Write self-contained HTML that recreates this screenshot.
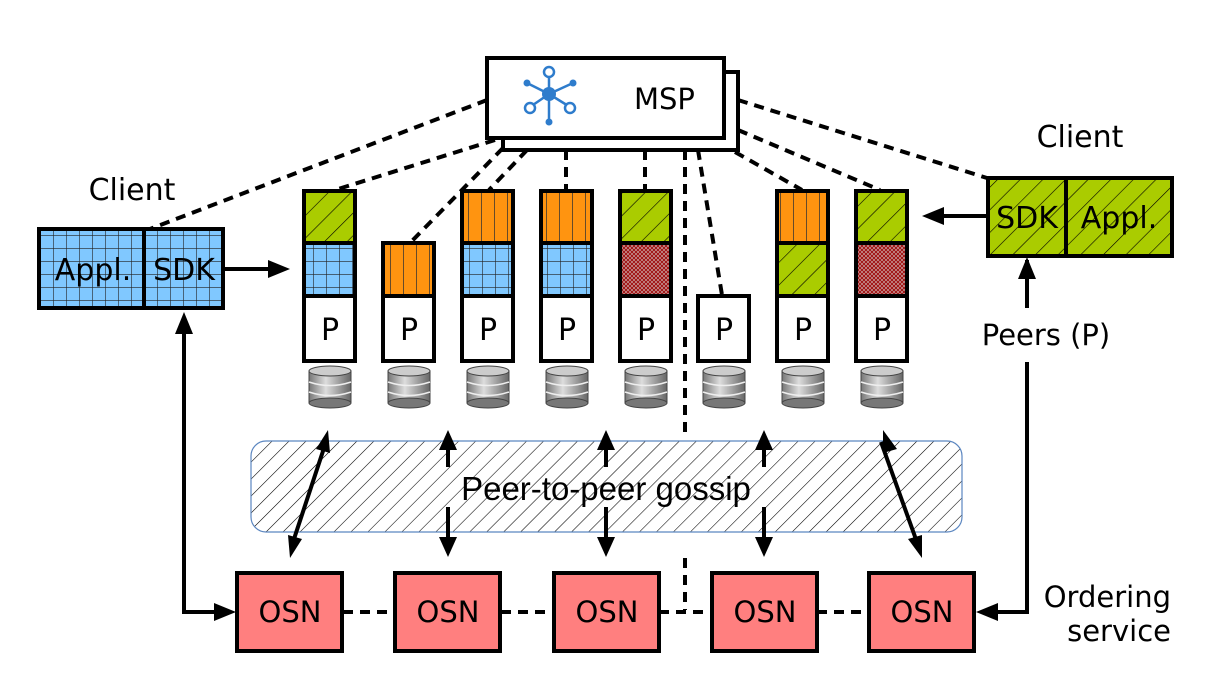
<!DOCTYPE html>
<html><head><meta charset="utf-8"><style>body{margin:0;background:#fff}svg{display:block}text{font-family:"DejaVu Sans","Liberation Sans",sans-serif}</style></head><body>
<svg width="1205" height="676" viewBox="0 0 1205 676" xmlns="http://www.w3.org/2000/svg">
<defs>
<pattern id="grn" width="16" height="16" patternUnits="userSpaceOnUse" patternTransform="rotate(45)"><rect width="16" height="16" fill="#aacc00"/><line x1="0" y1="0" x2="0" y2="16" stroke="#000" stroke-width="1.2"/></pattern>
<pattern id="blu" width="13" height="13" patternUnits="userSpaceOnUse" x="1" y="1"><rect width="13" height="13" fill="#80c8ff"/><path d="M0 0H13M0 0V13" stroke="#222" stroke-width="1.2"/></pattern>
<pattern id="org" width="13" height="60" patternUnits="userSpaceOnUse" x="0"><rect width="13" height="60" fill="#ff9410"/><line x1="0" y1="0" x2="0" y2="60" stroke="#333" stroke-width="1.5"/></pattern>
<pattern id="red" width="4" height="4" patternUnits="userSpaceOnUse"><rect width="4" height="4" fill="#c8a0a0"/><path d="M0 0L4 4M4 0L0 4" stroke="#a01010" stroke-width="1"/></pattern>
<pattern id="gos" width="12" height="12" patternUnits="userSpaceOnUse" patternTransform="rotate(45)"><rect width="12" height="12" fill="#fff"/><line x1="0" y1="0" x2="0" y2="12" stroke="#000" stroke-width="1.1"/></pattern>
<linearGradient id="db" x1="0" x2="1"><stop offset="0" stop-color="#777"/><stop offset="0.4" stop-color="#ddd"/><stop offset="1" stop-color="#666"/></linearGradient>
</defs>

<g stroke="#000" stroke-width="4" stroke-dasharray="10,7" fill="none">
<line x1="487" y1="100" x2="150" y2="229"/>
<line x1="495" y1="140" x2="335" y2="190"/>
<line x1="503" y1="148" x2="410" y2="243"/>
<line x1="527" y1="150" x2="489" y2="190"/>
<line x1="566" y1="150" x2="566" y2="190"/>
<line x1="645" y1="150" x2="645" y2="190"/>
<line x1="685" y1="150" x2="685" y2="432"/>
<line x1="685" y1="558" x2="685" y2="610"/>
<line x1="698" y1="150" x2="722" y2="295"/>
<line x1="735" y1="152" x2="802" y2="190"/>
<line x1="738" y1="130" x2="880" y2="190"/>
<line x1="738" y1="100" x2="987" y2="178"/>
<line x1="343" y1="612" x2="394" y2="612"/>
<line x1="501" y1="612" x2="553" y2="612"/>
<line x1="659" y1="612" x2="711" y2="612"/>
<line x1="817" y1="612" x2="868" y2="612"/>
</g>

<rect x="503" y="72" width="235" height="78" fill="#fff" stroke="#000" stroke-width="4"/>
<rect x="487" y="58" width="237" height="80" fill="#fff" stroke="#000" stroke-width="4"/>
<g stroke="#2e7ccc" stroke-width="2.5" fill="#fff">
<line x1="549" y1="94" x2="549" y2="74"/><line x1="549" y1="94" x2="549" y2="122"/>
<line x1="549" y1="94" x2="527" y2="83"/><line x1="549" y1="94" x2="573" y2="83"/>
<line x1="549" y1="94" x2="530" y2="107"/><line x1="549" y1="94" x2="570" y2="107"/>
<circle cx="549" cy="72" r="5"/><circle cx="530" cy="108" r="5"/><circle cx="570" cy="108" r="5"/>
</g>
<g fill="#2e7ccc"><circle cx="549" cy="94" r="7"/><circle cx="549" cy="122" r="3.5"/><circle cx="527" cy="83" r="3.5"/><circle cx="573" cy="83" r="3.5"/></g>
<text x="634" y="109" font-size="29">MSP</text>

<g stroke="#000" stroke-width="4">
<rect x="304" y="191" width="51" height="52" fill="url(#grn)"/><rect x="304" y="243" width="51" height="53" fill="url(#blu)"/><rect x="304" y="296" width="51" height="65" fill="#fff"/>
<rect x="383" y="243" width="51" height="53" fill="url(#org)"/><rect x="383" y="296" width="51" height="65" fill="#fff"/>
<rect x="462" y="191" width="51" height="52" fill="url(#org)"/><rect x="462" y="243" width="51" height="53" fill="url(#blu)"/><rect x="462" y="296" width="51" height="65" fill="#fff"/>
<rect x="541" y="191" width="51" height="52" fill="url(#org)"/><rect x="541" y="243" width="51" height="53" fill="url(#blu)"/><rect x="541" y="296" width="51" height="65" fill="#fff"/>
<rect x="620" y="191" width="51" height="52" fill="url(#grn)"/><rect x="620" y="243" width="51" height="53" fill="url(#red)"/><rect x="620" y="296" width="51" height="65" fill="#fff"/>
<rect x="698" y="296" width="51" height="65" fill="#fff"/>
<rect x="777" y="191" width="51" height="52" fill="url(#org)"/><rect x="777" y="243" width="51" height="53" fill="url(#grn)"/><rect x="777" y="296" width="51" height="65" fill="#fff"/>
<rect x="856" y="191" width="51" height="52" fill="url(#grn)"/><rect x="856" y="243" width="51" height="53" fill="url(#red)"/><rect x="856" y="296" width="51" height="65" fill="#fff"/>
</g>
<g font-size="30" text-anchor="middle">
<text x="330" y="340">P</text><text x="409" y="340">P</text><text x="488" y="340">P</text><text x="567" y="340">P</text><text x="646" y="340">P</text><text x="724" y="340">P</text><text x="803" y="340">P</text><text x="882" y="340">P</text>
</g>
<g id="dbg">
<g transform="translate(330,0)">
<rect x="-21" y="371" width="42" height="32" fill="url(#db)" stroke="#444"/>
<ellipse cx="0" cy="403" rx="21" ry="5" fill="#777" stroke="#444"/>
<path d="M-21 382Q0 389 21 382M-21 392Q0 399 21 392" stroke="#eee" stroke-width="1.5" fill="none"/>
<ellipse cx="0" cy="371" rx="21" ry="5" fill="#ccc" stroke="#444"/>
</g></g>
<use href="#dbg" x="79"/><use href="#dbg" x="158"/><use href="#dbg" x="237"/><use href="#dbg" x="316"/><use href="#dbg" x="394"/><use href="#dbg" x="473"/><use href="#dbg" x="552"/>

<rect x="251" y="441" width="711" height="91" rx="15" fill="url(#gos)" stroke="#5b86c0" stroke-width="1.2"/>
<text x="606" y="500" font-size="33" text-anchor="middle" style="font-family:'Liberation Sans',sans-serif">Peer-to-peer gossip</text>

<g stroke="#000" stroke-width="4">
<line x1="292" y1="545" x2="326" y2="442" />
<line x1="881" y1="442" x2="918" y2="545"/>
<line x1="448" y1="445" x2="448" y2="467"/><line x1="448" y1="507" x2="448" y2="545"/>
<line x1="606" y1="445" x2="606" y2="467"/><line x1="606" y1="507" x2="606" y2="545"/>
<line x1="764" y1="445" x2="764" y2="467"/><line x1="764" y1="507" x2="764" y2="545"/>
</g>
<g fill="#000">
<path d="M328 430L330 453L316 449z"/><path d="M290 558L288 535L302 539z"/>
<path d="M883 430L897 449L883 453z"/><path d="M922 558L908 539L922 535z"/>
<path d="M448 430L457 450L439 450z"/><path d="M448 557L457 537L439 537z"/>
<path d="M606 430L615 450L597 450z"/><path d="M606 557L615 537L597 537z"/>
<path d="M764 430L773 450L755 450z"/><path d="M764 557L773 537L755 537z"/>
</g>

<g stroke="#000" stroke-width="4" fill="#ff7f7f">
<rect x="237" y="573" width="105" height="78"/><rect x="395" y="573" width="105" height="78"/><rect x="554" y="573" width="105" height="78"/><rect x="712" y="573" width="105" height="78"/><rect x="869" y="573" width="105" height="78"/>
</g>
<g font-size="29" text-anchor="middle">
<text x="290" y="622">OSN</text><text x="448" y="622">OSN</text><text x="607" y="622">OSN</text><text x="765" y="622">OSN</text><text x="922" y="622">OSN</text>
</g>

<rect x="39" y="229" width="184" height="79" fill="url(#blu)" stroke="#000" stroke-width="4"/>
<line x1="144" y1="229" x2="144" y2="308" stroke="#000" stroke-width="4"/>
<text x="93" y="280" font-size="30" text-anchor="middle">Appl.</text>
<text x="184" y="280" font-size="30" text-anchor="middle">SDK</text>
<text x="132" y="200" font-size="30" text-anchor="middle">Client</text>
<g stroke="#000" stroke-width="4" fill="none">
<line x1="223" y1="269" x2="280" y2="269"/>
<polyline points="184,325 184,612 218,612"/>
<line x1="940" y1="216" x2="987" y2="216"/>
<line x1="1027" y1="260" x2="1027" y2="308"/>
<polyline points="1027,362 1027,612 992,612"/>
</g>
<g fill="#000">
<path d="M290 269L268 260L268 278z"/>
<path d="M184 312L175 334L193 334z"/>
<path d="M236 612L214 603L214 621z"/>
<path d="M922 216L944 207L944 225z"/>
<path d="M1027 257L1018 279L1036 279z"/>
<path d="M976 612L998 603L998 621z"/>
</g>

<rect x="988" y="178" width="184" height="78" fill="url(#grn)" stroke="#000" stroke-width="4"/>
<line x1="1066" y1="178" x2="1066" y2="256" stroke="#000" stroke-width="4"/>
<text x="1027" y="228" font-size="30" text-anchor="middle">SDK</text>
<text x="1119" y="228" font-size="30" text-anchor="middle">Appl.</text>
<text x="1080" y="147" font-size="30" text-anchor="middle">Client</text>
<text x="1046" y="345" font-size="29" text-anchor="middle">Peers (P)</text>
<text x="1171" y="607" font-size="29" text-anchor="end">Ordering</text>
<text x="1171" y="641" font-size="29" text-anchor="end">service</text>
</svg>
</body></html>
